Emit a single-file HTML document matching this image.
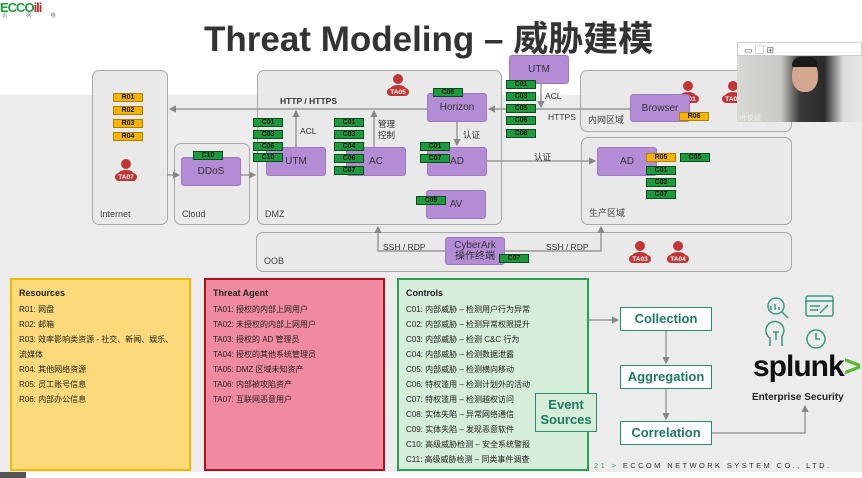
<!DOCTYPE html>
<html><head><meta charset="utf-8"><style>
*{margin:0;padding:0;box-sizing:border-box}
body{width:862px;height:478px;overflow:hidden;background:#fff;position:relative;font-family:"Liberation Sans","Noto Sans CJK SC",sans-serif}
.a{position:absolute}
.z{position:absolute;background:#e9e9e9;border:1.5px solid #a8a8a8;border-radius:7px;font-size:9px;color:#444}
.z span{position:absolute;left:7px;bottom:5px}
.n{position:absolute;background:#b48cd6;border:1.5px solid #9c78c0;border-radius:3px;color:#333;font-size:10px;display:flex;align-items:center;justify-content:center;text-align:center;line-height:11px}
.g,.o{position:absolute;width:30px;height:9px;background:#1c9b3c;border:1px solid #0b4d1c;font-size:7px;font-weight:bold;color:#111;text-align:center;line-height:7px}
.o{background:#f5b400;border-color:#b08000}
.t{position:absolute;font-size:8.5px;color:#333}
.p{position:absolute;font-size:8px;line-height:15px;color:#222;padding:6px 7px;white-space:nowrap}
.p b{font-size:9px;display:block;margin-bottom:1px}
.f{position:absolute;width:92px;height:24px;background:#fff;border:1.5px solid #2a8a70;color:#1f7a63;font-weight:bold;font-size:13px;text-align:center;line-height:21px}
</style></head><body>
<div class="a" style="left:0;top:95px;width:862px;height:377px;background:#ececec"></div>
<div class="a" style="left:0;top:0;font-size:13px;font-weight:bold;color:#1a9e3a;letter-spacing:-1px">ECCO<span style="color:#c0282d">ili</span></div>
<div class="a" style="left:2px;top:12px;font-size:5px;color:#777;letter-spacing:9px">讯 网 络</div>
<div class="a" style="left:204px;top:11px;font-size:35px;font-weight:bold;color:#333;white-space:nowrap">Threat Modeling – 威胁建模</div>

<div class="z" style="left:92px;top:70px;width:76px;height:155px"><span>Internet</span></div>
<div class="z" style="left:174px;top:143px;width:76px;height:82px"><span>Cloud</span></div>
<div class="z" style="left:257px;top:70px;width:245px;height:155px"><span>DMZ</span></div>
<div class="z" style="left:256px;top:232px;width:536px;height:40px"><span>OOB</span></div>
<div class="z" style="left:580px;top:70px;width:212px;height:62px"><span>内网区域</span></div>
<div class="z" style="left:581px;top:137px;width:211px;height:88px"><span>生产区域</span></div>

<svg class="a" style="left:0;top:0" width="862" height="478">
<defs><marker id="m" markerWidth="6" markerHeight="6" refX="5" refY="3" orient="auto"><path d="M0,0L6,3L0,6z" fill="#888"/></marker></defs>
<g stroke="#888" stroke-width="1.2" fill="none">
<path d="M427 109H170" marker-end="url(#m)"/>
<path d="M296 147V111" marker-end="url(#m)"/>
<path d="M374 147V111" marker-end="url(#m)"/>
<path d="M457 122V145" marker-end="url(#m)"/>
<path d="M630 109H489" marker-end="url(#m)"/>
<path d="M541 84V107" marker-end="url(#m)"/>
<path d="M167 175H179" marker-end="url(#m)"/>
<path d="M241 175H255" marker-end="url(#m)"/>
<path d="M487 161H595" marker-end="url(#m)"/>
<path d="M445 251H378V227" marker-end="url(#m)"/>
<path d="M505 251H601V227" marker-end="url(#m)"/>
<path d="M556 393V320H618" marker-end="url(#m)"/>
<path d="M666 331V363" marker-end="url(#m)"/>
<path d="M666 389V419" marker-end="url(#m)"/>
<path d="M712 433H805V406" marker-end="url(#m)"/>
</g>
<g fill="#c23535">
<g transform="translate(398,85)"><circle cx="0" cy="-6" r="5"/><path d="M-9 8Q-9 0 0 0Q9 0 9 8z"/><rect x="-11" y="3" width="22" height="8" rx="4"/></g>
<g transform="translate(126,170)"><circle cx="0" cy="-6" r="5"/><path d="M-9 8Q-9 0 0 0Q9 0 9 8z"/><rect x="-11" y="3" width="22" height="8" rx="4"/></g>
<g transform="translate(688,92)"><circle cx="0" cy="-6" r="5"/><path d="M-9 8Q-9 0 0 0Q9 0 9 8z"/><rect x="-11" y="3" width="22" height="8" rx="4"/></g>
<g transform="translate(733,92)"><circle cx="0" cy="-6" r="5"/><path d="M-9 8Q-9 0 0 0Q9 0 9 8z"/><rect x="-11" y="3" width="22" height="8" rx="4"/></g>
<g transform="translate(640,252)"><circle cx="0" cy="-6" r="5"/><path d="M-9 8Q-9 0 0 0Q9 0 9 8z"/><rect x="-11" y="3" width="22" height="8" rx="4"/></g>
<g transform="translate(678,252)"><circle cx="0" cy="-6" r="5"/><path d="M-9 8Q-9 0 0 0Q9 0 9 8z"/><rect x="-11" y="3" width="22" height="8" rx="4"/></g>
</g>
<g fill="#fff" font-size="6.5" font-weight="bold" text-anchor="middle" font-family="Liberation Sans">
<text x="398" y="94">TA05</text><text x="126" y="179">TA07</text><text x="688" y="101">TA01</text><text x="733" y="101">TA02</text><text x="640" y="261">TA03</text><text x="678" y="261">TA04</text>
</g>
<g stroke="#3a9a80" stroke-width="1.5" fill="none">
<circle cx="776" cy="306" r="8"/><path d="M782 312l6 6M771 310v-4M775 310v-6M779 310v-3"/>
<rect x="806" y="296" width="27" height="20" rx="2"/><path d="M806 301h27M810 306h10M810 310h8M820 313l8-8"/>
<path d="M770 346v-8a9 9 0 1 1 12 -2v10"/><path d="M773 332h6M776 332v8"/>
<circle cx="816" cy="339" r="9"/><path d="M816 333v6h4"/>
</g>
</svg>

<div class="t" style="left:280px;top:96px;font-weight:bold">HTTP / HTTPS</div>
<div class="t" style="left:300px;top:126px">ACL</div>
<div class="t" style="left:378px;top:119px;line-height:11px">管理<br>控制</div>
<div class="t" style="left:463px;top:129px">认证</div>
<div class="t" style="left:545px;top:91px">ACL</div>
<div class="t" style="left:548px;top:112px">HTTPS</div>
<div class="t" style="left:534px;top:151px">认证</div>
<div class="t" style="left:383px;top:242px">SSH / RDP</div>
<div class="t" style="left:546px;top:242px">SSH / RDP</div>

<div class="n" style="left:181px;top:157px;width:60px;height:29px">DDoS</div>
<div class="n" style="left:266px;top:147px;width:60px;height:29px">UTM</div>
<div class="n" style="left:346px;top:147px;width:60px;height:29px">AC</div>
<div class="n" style="left:427px;top:93px;width:60px;height:29px">Horizon</div>
<div class="n" style="left:427px;top:147px;width:60px;height:29px">AD</div>
<div class="n" style="left:426px;top:190px;width:60px;height:29px">AV</div>
<div class="n" style="left:509px;top:55px;width:60px;height:29px">UTM</div>
<div class="n" style="left:630px;top:94px;width:60px;height:28px">Browser</div>
<div class="n" style="left:597px;top:147px;width:60px;height:29px">AD</div>
<div class="n" style="left:445px;top:237px;width:60px;height:28px">CyberArk<br>操作终端</div>

<div class="o" style="left:113px;top:93px">R01</div><div class="o" style="left:113px;top:106px">R02</div><div class="o" style="left:113px;top:119px">R03</div><div class="o" style="left:113px;top:132px">R04</div>
<div class="g" style="left:193px;top:151px">C10</div>
<div class="g" style="left:253px;top:118px">C01</div><div class="g" style="left:253px;top:130px">C03</div><div class="g" style="left:253px;top:142px">C06</div><div class="g" style="left:253px;top:153px">C10</div>
<div class="g" style="left:334px;top:118px">C01</div><div class="g" style="left:334px;top:130px">C03</div><div class="g" style="left:334px;top:142px">C04</div><div class="g" style="left:334px;top:154px">C06</div><div class="g" style="left:334px;top:166px">C07</div>
<div class="g" style="left:433px;top:88px">C06</div>
<div class="g" style="left:420px;top:142px">C01</div><div class="g" style="left:420px;top:154px">C07</div>
<div class="g" style="left:416px;top:196px">C09</div>
<div class="g" style="left:506px;top:80px">C01</div><div class="g" style="left:506px;top:92px">C03</div><div class="g" style="left:506px;top:104px">C05</div><div class="g" style="left:506px;top:116px">C06</div><div class="g" style="left:506px;top:129px">C08</div>
<div class="o" style="left:679px;top:112px">R06</div>
<div class="o" style="left:646px;top:153px">R05</div><div class="g" style="left:680px;top:153px">C05</div>
<div class="g" style="left:646px;top:166px">C01</div><div class="g" style="left:646px;top:178px">C02</div><div class="g" style="left:646px;top:190px">C07</div>
<div class="g" style="left:499px;top:254px">C07</div>

<div class="p" style="left:10px;top:278px;width:181px;height:193px;background:#fcd97a;border:2px solid #f5b800"><b>Resources</b>R01: 网盘<br>R02: 邮箱<br>R03: 效率影响类资源 - 社交、新闻、娱乐、<br>流媒体<br>R04: 其他网络资源<br>R05: 员工账号信息<br>R06: 内部办公信息</div>
<div class="p" style="left:204px;top:278px;width:181px;height:193px;background:#f08aa0;border:2px solid #b0101e"><b>Threat Agent</b>TA01: 授权的内部上网用户<br>TA02: 未授权的内部上网用户<br>TA03: 授权的 AD 管理员<br>TA04: 授权的其他系统管理员<br>TA05: DMZ 区域未知资产<br>TA06: 内部被攻陷资产<br>TA07: 互联网恶意用户</div>
<div class="p" style="left:397px;top:278px;width:192px;height:193px;background:#d6edda;border:2px solid #2aa050"><b>Controls</b>C01: 内部威胁 – 检测用户行为异常<br>C02: 内部威胁 – 检测异常权限提升<br>C03: 内部威胁 – 检测 C&amp;C 行为<br>C04: 内部威胁 – 检测数据泄露<br>C05: 内部威胁 – 检测横向移动<br>C06: 特权滥用 – 检测计划外的活动<br>C07: 特权滥用 – 检测越权访问<br>C08: 实体失陷 – 异常网络通信<br>C09: 实体失陷 – 发现恶意软件<br>C10: 高级威胁检测 – 安全系统警报<br>C11: 高级威胁检测 – 同类事件调查</div>
<div class="a" style="left:535px;top:393px;width:62px;height:39px;border:1.5px solid #2a8a70;background:#d6edda;color:#1f7a63;font-weight:bold;font-size:13px;text-align:center;line-height:15px;padding-top:3px">Event<br>Sources</div>
<div class="f" style="left:620px;top:307px">Collection</div>
<div class="f" style="left:620px;top:365px">Aggregation</div>
<div class="f" style="left:620px;top:421px">Correlation</div>
<div class="a" style="left:753px;top:350px;font-size:30px;font-weight:bold;color:#111;letter-spacing:-1px">splunk<span style="color:#5cb82c">&gt;</span></div>
<div class="a" style="left:752px;top:392px;font-size:10px;font-weight:bold;color:#222">Enterprise Security</div>
<div class="a" style="left:594px;top:461px;font-size:7.5px;color:#333;letter-spacing:2.4px;white-space:nowrap"><span style="color:#3aa060">21 &gt;</span> ECCOM NETWORK SYSTEM CO., LTD.</div>

<div class="a" style="left:737px;top:42px;width:125px;height:14px;background:#fff;border:1px solid #ccc;font-size:9px;color:#666;padding-left:6px">▭ ▢ ⊞</div>
<div class="a" style="left:737px;top:56px;width:125px;height:66px;background:linear-gradient(90deg,#d8d8d4 0,#c9c9c5 35%,#3a3a3a 50%,#2a2a2a 70%,#dcdcdc 85%,#e8e8e8 100%)"></div>
<div class="a" style="left:792px;top:60px;width:26px;height:32px;border-radius:45%;background:#d4a890"></div>
<div class="a" style="left:792px;top:57px;width:26px;height:10px;border-radius:10px 10px 2px 2px;background:#1a1a1a"></div>
<div class="a" style="left:740px;top:113px;font-size:7px;color:#eee">叶俊斌</div>
<div class="a" style="left:0;top:472px;width:26px;height:6px;background:#555"></div>
</body></html>
